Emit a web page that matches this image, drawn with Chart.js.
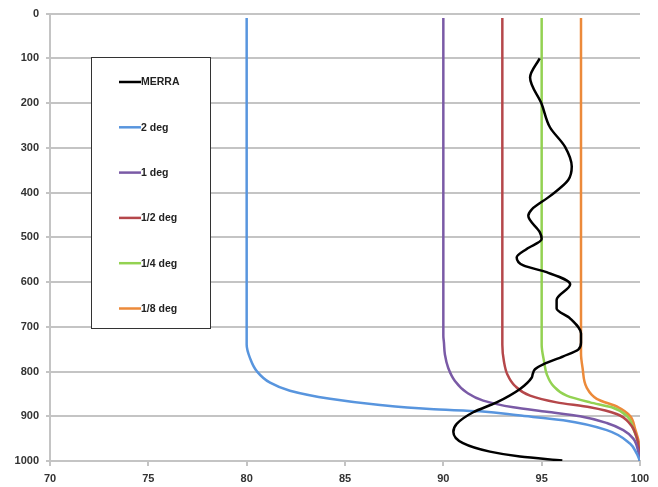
<!DOCTYPE html>
<html>
<head>
<meta charset="utf-8">
<script src="https://cdn.jsdelivr.net/npm/chart.js@4"></script>
<style>
  html, body { margin: 0; padding: 0; background: #fff; }
  #wrap { width: 658px; height: 487px; }
</style>
</head>
<body>
<div id="wrap"><canvas id="myChart" width="658" height="487"></canvas></div>
<script>
//* DATA //
let seriesNames = ['MERRA', '2 deg', '1 deg', '1/2 deg', '1/4 deg', '1/8 deg'];
let seriesColors = ['#000000', '#5895de', '#7a5aa6', '#b5474a', '#93d252', '#ec8a3a'];

let xTicks = [70, 75, 80, 85, 90, 95, 100];
let yTicks = [0, 100, 200, 300, 400, 500, 600, 700, 800, 900, 1000];

let merraX = [94.9, 94.41, 95.0, 95.42, 96.19, 96.53, 96.35, 95.42, 94.49, 94.32, 94.91, 95.0, 94.24, 93.73, 94.07, 95.25, 96.45, 95.76, 95.76, 96.44, 97.0, 97.0, 96.86, 96.1, 95.08, 94.66, 94.55, 94.49, 93.9, 92.71, 91.52, 90.68, 90.51, 91.0, 92.37, 93.9, 96.05];
let merraY = [100, 143, 202, 254, 298, 342, 372, 408, 438, 452, 489, 504, 526, 545, 563, 578, 605, 640, 659, 681, 715, 735, 751, 766, 784, 795, 805, 814, 839, 869, 891, 917, 935, 960, 979, 990, 999];

let deg2X = [80, 80, 80, 80.17, 80.51, 81.19, 82.2, 84.24, 86.78, 89.32, 91.86, 93.8, 96.1, 98.31, 99.49, 99.83, 100];
let deg2Y = [10, 700, 740, 770, 799, 825, 843, 861, 875, 884, 889, 898, 909, 931, 961, 983, 1000];

let deg1X = [90, 90, 90.03, 90.08, 90.25, 90.59, 91.19, 92.03, 93.56, 95.26, 96.95, 98.31, 99.15, 99.66, 99.92, 100];
let deg1Y = [10, 720, 735, 762, 792, 821, 847, 865, 880, 890, 900, 915, 931, 950, 980, 1000];

let halfX = [93, 93, 93.08, 93.25, 93.64, 94.41, 95.76, 97.46, 98.81, 99.49, 99.85, 100];
let halfY = [10, 740, 777, 806, 832, 854, 869, 880, 895, 917, 950, 1000];

let quarterX = [95, 95, 95.12, 95.26, 95.59, 96.27, 97.46, 98.56, 99.32, 99.66, 99.9, 100];
let quarterY = [10, 740, 777, 806, 832, 854, 869, 880, 899, 928, 960, 1000];

let eighthX = [97, 97, 97.08, 97.29, 97.8, 98.9, 99.49, 99.75, 99.95, 100];
let eighthY = [10, 760, 792, 836, 861, 880, 899, 928, 960, 1000];

//* HELPERS //
function toPoints(xs, ys) {
  let pts = [];
  for (let i = 0; i < xs.length; i++) {
    pts.push({ x: xs[i], y: ys[i] });
  }
  return pts;
}

let allX = [merraX, deg2X, deg1X, halfX, quarterX, eighthX];
let allY = [merraY, deg2Y, deg1Y, halfY, quarterY, eighthY];

let datasets = [];
for (let i = 0; i < seriesNames.length; i++) {
  datasets.push({
    label: seriesNames[i],
    data: toPoints(allX[i], allY[i]),
    borderColor: seriesColors[i],
    backgroundColor: seriesColors[i],
    borderWidth: 2.5,
    showLine: true,
    pointRadius: 0,
    cubicInterpolationMode: 'monotone',
    fill: false
  });
}

// legend drawn as a boxed list inside the plot
let boxLegend = {
  id: 'boxLegend',
  afterDraw(chart) {
    let c = chart.ctx;
    let left = 91.5, top = 57.5, w = 119, h = 271;
    c.save();
    c.fillStyle = '#fff';
    c.fillRect(left, top, w, h);
    c.strokeStyle = '#333';
    c.lineWidth = 1;
    c.strokeRect(left, top, w, h);
    c.font = 'bold 10.5px "Liberation Sans", Arial, sans-serif';
    c.textBaseline = 'middle';
    c.textAlign = 'left';
    chart.data.datasets.forEach((ds, i) => {
      let y = 82 + i * 45.3;
      c.strokeStyle = ds.borderColor;
      c.lineWidth = 2.5;
      c.beginPath();
      c.moveTo(119, y);
      c.lineTo(141, y);
      c.stroke();
      c.fillStyle = '#222';
      c.fillText(ds.label, 141, y + 0.5);
    });
    c.restore();
  }
};

let gridGray = '#c4c4c4';
let tickFont = { family: '"Liberation Sans", Arial, sans-serif', size: 11, weight: 'bold' };

let ctx = document.getElementById('myChart');

new Chart(ctx, {
  type: 'scatter',
  data: { datasets: datasets },
  options: {
    indexAxis: 'y',
    responsive: false,
    animation: false,
    layout: { padding: { top: 8, right: 18, left: 0, bottom: 0 } },
    plugins: {
      legend: { display: false },
      tooltip: { enabled: false }
    },
    scales: {
      x: {
        type: 'linear',
        position: 'bottom',
        min: xTicks[0],
        max: xTicks[xTicks.length - 1],
        afterBuildTicks: (s) => { s.ticks = xTicks.map(v => ({ value: v })); },
        afterFit: (s) => { s.height = 26; },
        grid: { drawOnChartArea: false, color: gridGray, lineWidth: 2, tickLength: 5 },
        border: { color: gridGray, width: 2 },
        ticks: { font: tickFont, color: '#333', padding: 6, maxRotation: 0, callback: (v) => String(v) }
      },
      y: {
        type: 'linear',
        position: 'left',
        reverse: true,
        min: yTicks[0],
        max: yTicks[yTicks.length - 1],
        afterBuildTicks: (s) => { s.ticks = yTicks.map(v => ({ value: v })); },
        afterFit: (s) => { s.width = 50; },
        grid: { color: gridGray, lineWidth: 2, tickLength: 4 },
        border: { color: gridGray, width: 2 },
        ticks: { font: tickFont, color: '#333', padding: 7, callback: (v) => String(v) }
      }
    }
  },
  plugins: [boxLegend]
});
</script>
</body>
</html>
